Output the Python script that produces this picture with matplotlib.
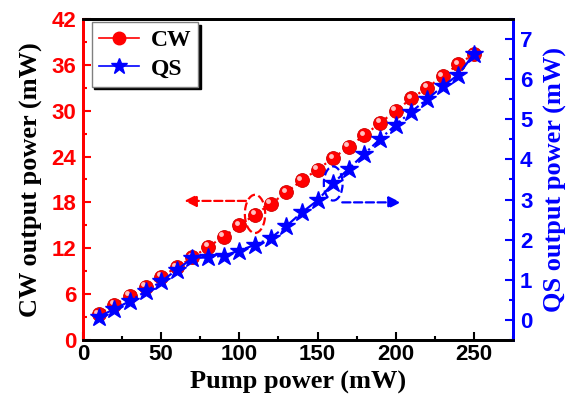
import matplotlib.pyplot as plt
import matplotlib.transforms as mtransforms
from matplotlib.lines import Line2D
from matplotlib.patches import Ellipse
from matplotlib.ticker import MultipleLocator

# pump power (mW) and output powers
pump = [10, 20, 30, 40, 50, 60, 70, 80, 90, 100, 110, 120, 130,
        140, 150, 160, 170, 180, 190, 200, 210, 220, 230, 240, 250]
cw_power = [3.4, 4.6, 5.8, 7.0, 8.3, 9.5, 10.8, 12.2, 13.5, 15.0, 16.4, 17.8, 19.3,
            20.9, 22.3, 23.8, 25.3, 26.8, 28.4, 30.0, 31.6, 33.0, 34.5, 36.1, 37.4]
qs_power = [0.08, 0.27, 0.47, 0.71, 0.96, 1.25, 1.54, 1.56, 1.60, 1.73, 1.87, 2.04, 2.34,
            2.68, 2.98, 3.41, 3.77, 4.14, 4.51, 4.86, 5.19, 5.50, 5.82, 6.11, 6.63]

tick_font = {'family': 'Liberation Sans', 'weight': 'bold', 'size': 16}
label_font = {'family': 'Liberation Serif', 'weight': 'bold', 'size': 19}

fig = plt.figure(figsize=(5.78, 4.04), dpi=100)
ax = fig.add_axes([0.1436, 0.1584, 0.744, 0.7946])
ax2 = ax.twinx()

ax.plot(pump, cw_power, ':', color='red', lw=1.6, marker='o', ms=10,
        mfc='red', mec='#d00000', mew=0.6, zorder=3)
# glossy highlight on the spheres
shine = ax.transData + mtransforms.ScaledTranslation(-1.8/72, 1.8/72, fig.dpi_scale_trans)
ax.plot(pump, cw_power, 'none', marker='o', ms=3.5, mfc='#ffc0c0', mec='none',
        zorder=4, transform=shine)
ax2.plot(pump, qs_power, '-.', color='blue', lw=1.6, marker='*', ms=13.5,
         mfc='blue', mec='blue', zorder=3)

ax.set_xlim(0, 275)
ax.set_ylim(0, 42)
ax2.set_ylim(-0.5, 7.5)

ax.xaxis.set_major_locator(MultipleLocator(50))
ax.xaxis.set_minor_locator(MultipleLocator(25))
ax.yaxis.set_major_locator(MultipleLocator(6))
ax.yaxis.set_minor_locator(MultipleLocator(3))
ax2.yaxis.set_major_locator(MultipleLocator(1))
ax2.yaxis.set_minor_locator(MultipleLocator(0.5))
ax2.set_yticks(range(0, 8))

ax.tick_params(axis='x', which='both', direction='in', top=False, colors='black', width=1.5, pad=3)
ax.tick_params(axis='x', which='major', length=6)
ax.tick_params(axis='x', which='minor', length=3)
ax.tick_params(axis='y', which='both', direction='in', colors='red', width=1.5, pad=5)
ax.tick_params(axis='y', which='major', length=6)
ax.tick_params(axis='y', which='minor', length=3)
ax2.tick_params(axis='y', which='both', direction='in', colors='blue', width=1.5, pad=5)
ax2.tick_params(axis='y', which='major', length=6)
ax2.tick_params(axis='y', which='minor', length=3)

for lab in ax.get_xticklabels():
    lab.set_fontproperties(tick_font)
for lab in ax.get_yticklabels():
    lab.set_fontproperties(tick_font)
for lab in ax2.get_yticklabels():
    lab.set_fontproperties(tick_font)

for a in (ax, ax2):
    for s in a.spines.values():
        s.set_linewidth(2)
    a.spines['left'].set_color('red')
    a.spines['right'].set_color('blue')

ax.set_xlabel('Pump power (mW)', fontdict=label_font, labelpad=4)
ax.set_ylabel('CW output power (mW)', fontdict=label_font, labelpad=6)
ax2.set_ylabel('QS output power (mW)', fontdict=label_font, color='blue', labelpad=8)

# dashed ellipses and arrows pointing to each axis
ax.add_patch(Ellipse((110, 16.5), 13, 5.0, fill=False, ls='--', lw=1.6,
                     ec='red', zorder=5))
ax.annotate('', xy=(63, 18.2), xytext=(106, 18.2),
            arrowprops=dict(arrowstyle='-|>', ls='--', lw=1.6, color='red',
                            mutation_scale=18))
ax2.add_patch(Ellipse((160, 3.4), 12, 0.85, fill=False, ls='--', lw=1.6,
                      ec='blue', zorder=5))
ax2.annotate('', xy=(205, 2.93), xytext=(164, 2.93),
             arrowprops=dict(arrowstyle='-|>', ls='--', lw=1.6, color='blue',
                             mutation_scale=18))

handles = [Line2D([], [], color='red', marker='o', ms=9, lw=1.2),
           Line2D([], [], color='blue', marker='*', ms=12, lw=1.2)]
leg = ax.legend(handles, ['CW', 'QS'], loc='upper left', bbox_to_anchor=(0.02, 0.99),
                shadow={'color': 'black', 'alpha': 1}, fancybox=False,
                prop={'family': 'Liberation Serif', 'weight': 'bold', 'size': 17},
                borderaxespad=0.0, borderpad=0.3, handlelength=1.7, labelspacing=0.3,
                handletextpad=0.5)
leg.get_frame().set_edgecolor('gray')
leg.get_frame().set_linewidth(1)

fig.savefig('out.png', dpi=100)
